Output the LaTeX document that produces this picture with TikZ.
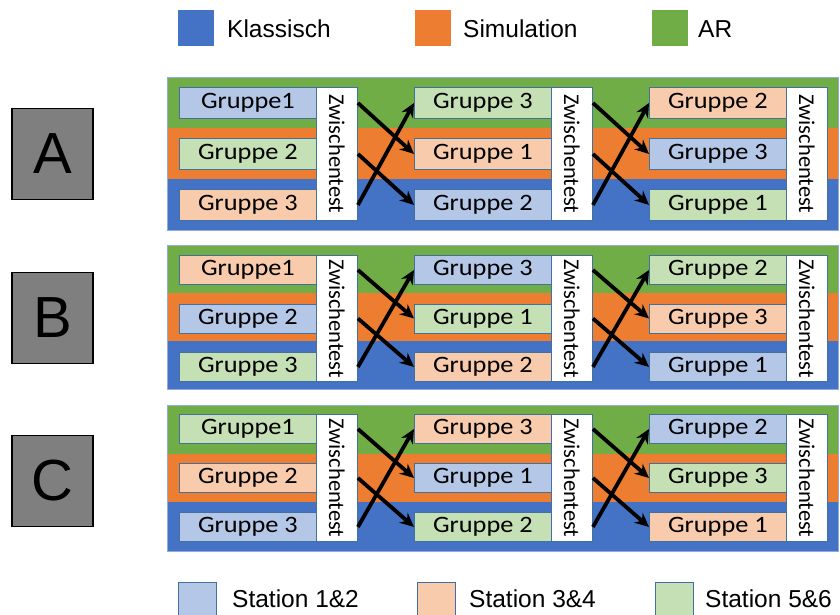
\documentclass[tikz,border=0pt]{standalone}
\usepackage{fontspec}
\setmainfont{Liberation Sans}
\newfontfamily\calib{Carlito}
\newfontfamily\calibwide[FakeStretch=1.12]{Carlito}
\usetikzlibrary{arrows.meta}

\definecolor{bandB}{HTML}{4472C4}
\definecolor{bandO}{HTML}{ED7D31}
\definecolor{bandG}{HTML}{70AD47}
\definecolor{lb}{HTML}{B4C7E7}
\definecolor{lo}{HTML}{F8CBAD}
\definecolor{lg}{HTML}{C5E0B4}
\definecolor{edge}{HTML}{41719C}
\definecolor{frameline}{HTML}{8FAADC}
\definecolor{tagfill}{HTML}{7F7F7F}

\tikzset{
  gbox/.style={draw=edge, line width=0.9pt, minimum width=137pt, inner sep=0pt,
    anchor=north west, font=\calibwide\fontsize{23.5}{23.5}\selectfont},
  zwbox/.style={draw=edge, fill=white, line width=0.9pt, minimum width=41pt,
    inner sep=0pt, anchor=north west},
  zwtext/.style={rotate=-90, inner sep=0pt, font=\calib\fontsize{22.5}{22.5}\selectfont},
  arr/.style={line width=3.8pt, -{Stealth[length=14pt, width=13pt]}},
  tagbox/.style={draw=black, fill=tagfill, line width=1.3pt, minimum width=81pt,
    minimum height=91pt, inner sep=0pt, font=\fontsize{58}{58}\selectfont},
  legsq/.style={minimum width=36pt, minimum height=36pt, inner sep=0pt, anchor=north west},
  legtxt/.style={anchor=base west, inner sep=0pt, font=\fontsize{24.5}{24.5}\selectfont},
}

% #1 id, #2 top, #3 band height, #4 row pitch, #5 box height, #6 first row offset,
% #7-#9 columns given as fill/label lists
\newcommand\drawpanel[9]{%
  \fill[bandG] (167,#2) rectangle (838,#2+#3);
  \fill[bandO] (167,#2+#3) rectangle (838,#2+2*#3);
  \fill[bandB] (167,#2+2*#3) rectangle (838,#2+3*#3);
  \draw[frameline, line width=0.8pt] (167,#2) rectangle (838,#2+3*#3);
  \foreach \f/\t [count=\i] in {#7}
    \node[gbox, fill=\f, minimum height=#5] (#1a\i) at (179,{#2+#6+(\i-1)*#4}) {\t};
  \foreach \f/\t [count=\i] in {#8}
    \node[gbox, fill=\f, minimum height=#5] (#1b\i) at (414,{#2+#6+(\i-1)*#4}) {\t};
  \foreach \f/\t [count=\i] in {#9}
    \node[gbox, fill=\f, minimum height=#5] (#1c\i) at (649,{#2+#6+(\i-1)*#4}) {\t};
  \node[zwbox, minimum height={2*#4+#5}] (#1z1) at (316,#2+#6) {};
  \node[zwbox, minimum height={2*#4+#5}] (#1z2) at (551,#2+#6) {};
  \node[zwbox, minimum height={2*#4+#5}] (#1z3) at (786,#2+#6) {};
  \node[zwtext] (#1t1) at (#1z1.center) {Zwischentest};
  \node[zwtext] (#1t2) at (#1z2.center) {Zwischentest};
  \node[zwtext] (#1t3) at (#1z3.center) {Zwischentest};
  \draw[arr] (#1z1.east |- #1a1.center) -- (#1b2.west);
  \draw[arr] (#1z1.east |- #1a2.center) -- (#1b3.west);
  \draw[arr] (#1z1.east |- #1a3.center) -- (#1b1.west);
  \draw[arr] (#1z2.east |- #1b1.center) -- (#1c2.west);
  \draw[arr] (#1z2.east |- #1b2.center) -- (#1c3.west);
  \draw[arr] (#1z2.east |- #1b3.center) -- (#1c1.west);
}

\begin{document}
\begin{tikzpicture}[x=1pt, y=-1pt]
\useasboundingbox (0,0) rectangle (840,614);

% legend: teaching method per band
\node[legsq, fill=bandB] (lk) at (178,10) {};
\node[legtxt] (lkt) at (227,37) {Klassisch};
\node[legsq, fill=bandO] (ls) at (415,10) {};
\node[legtxt] (lst) at (463,37) {Simulation};
\node[legsq, fill=bandG] (la) at (652,10) {};
\node[legtxt] (lat) at (698,37) {AR};

% panel tags
\node[tagbox] (tA) at (52.5,154) {A};
\node[tagbox] (tB) at (52.5,318) {B};
\node[tagbox] (tC) at (52.5,481) {C};

% rotation schemes
\drawpanel{A}{77}{51}{51}{31}{10}
  {lb/Gruppe1, lg/Gruppe 2, lo/Gruppe 3}
  {lg/Gruppe 3, lo/Gruppe 1, lb/Gruppe 2}
  {lo/Gruppe 2, lb/Gruppe 3, lg/Gruppe 1}
\drawpanel{B}{245}{48}{48.5}{29}{10}
  {lo/Gruppe1, lb/Gruppe 2, lg/Gruppe 3}
  {lb/Gruppe 3, lg/Gruppe 1, lo/Gruppe 2}
  {lg/Gruppe 2, lo/Gruppe 3, lb/Gruppe 1}
\drawpanel{C}{405}{48.7}{49}{29}{9}
  {lg/Gruppe1, lo/Gruppe 2, lb/Gruppe 3}
  {lo/Gruppe 3, lb/Gruppe 1, lg/Gruppe 2}
  {lb/Gruppe 2, lg/Gruppe 3, lo/Gruppe 1}

% legend: stations
\node[legsq, draw=edge, line width=0.9pt, fill=lb, minimum width=38pt, minimum height=40pt] (s12) at (178,582) {};
\node[legtxt] (s12t) at (232,607) {Station 1\&2};
\node[legsq, draw=edge, line width=0.9pt, fill=lo, minimum width=38pt, minimum height=40pt] (s34) at (417,582) {};
\node[legtxt] (s34t) at (469,607) {Station 3\&4};
\node[legsq, draw=edge, line width=0.9pt, fill=lg, minimum width=38pt, minimum height=40pt] (s56) at (655,582) {};
\node[legtxt] (s56t) at (705,607) {Station 5\&6};
\end{tikzpicture}
\end{document}
